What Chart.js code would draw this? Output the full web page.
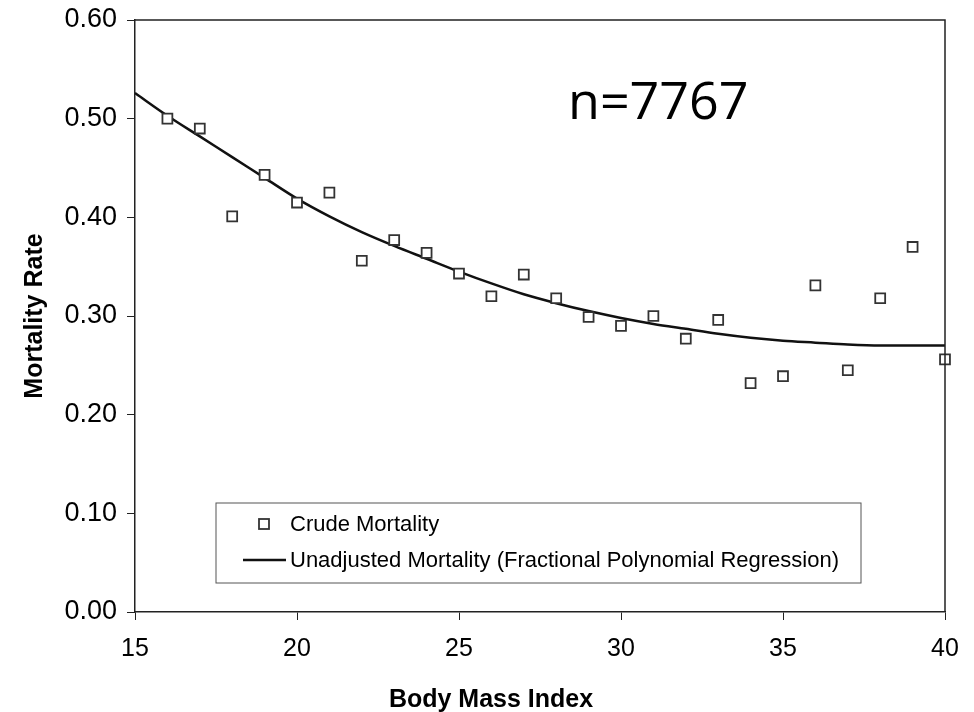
<!DOCTYPE html>
<html>
<head>
<meta charset="utf-8">
<script src="https://cdn.jsdelivr.net/npm/chart.js@4.4.1/dist/chart.umd.min.js"></script>
<style>
  html, body { margin: 0; padding: 0; background: #fff; }
  #wrap { width: 974px; height: 712px; }
</style>
</head>
<body>
<div id="wrap"><canvas id="chart" width="974" height="712"></canvas></div>
<script>
// crude mortality by BMI (points)
const bmiValues = [16, 17, 18, 19, 20, 21, 22, 23, 24, 25, 26, 27, 28, 29, 30, 31, 32, 33, 34, 35, 36, 37, 38, 39, 40];
const crudeMortality = [0.500, 0.490, 0.401, 0.443, 0.415, 0.425, 0.356, 0.377, 0.364, 0.343, 0.320, 0.342, 0.318, 0.299, 0.290, 0.300, 0.277, 0.296, 0.232, 0.239, 0.331, 0.245, 0.318, 0.370, 0.256];

// fitted curve (fractional polynomial)
const curveBmi = [15, 16, 17, 18, 19, 20, 21, 22, 23, 24, 25, 26, 27, 28, 29, 30, 31, 32, 33, 34, 35, 36, 37, 38, 39, 40];
const curveMortality = [0.526, 0.503, 0.482, 0.461, 0.440, 0.419, 0.401, 0.385, 0.371, 0.358, 0.345, 0.333, 0.322, 0.313, 0.305, 0.298, 0.292, 0.287, 0.282, 0.278, 0.275, 0.273, 0.271, 0.270, 0.270, 0.270];

const xTicks = [15, 20, 25, 30, 35, 40];
const yTicks = [0.0, 0.1, 0.2, 0.3, 0.4, 0.5, 0.6];

const seriesNames = ["Crude Mortality", "Unadjusted Mortality (Fractional Polynomial Regression)"];
const xTitle = "Body Mass Index";
const yTitle = "Mortality Rate";
const annotation = "n=7767";

const fontFamily = "'Liberation Sans', Arial, sans-serif";
const axisColor = "#222";

// frame, legend box, x title and n= label
const extrasPlugin = {
  id: "extras",
  afterDraw(chart) {
    const ctx = chart.ctx;
    const a = chart.chartArea;
    ctx.save();

    // top/right frame
    ctx.strokeStyle = axisColor;
    ctx.lineWidth = 1.5;
    ctx.beginPath();
    ctx.moveTo(a.left, a.top);
    ctx.lineTo(a.right, a.top);
    ctx.lineTo(a.right, a.bottom);
    ctx.stroke();

    // legend
    const bx = a.left + 81, by = a.bottom - 109, bw = 645, bh = 80;
    ctx.fillStyle = "#fff";
    ctx.fillRect(bx, by, bw, bh);
    ctx.strokeStyle = "#555";
    ctx.lineWidth = 1;
    ctx.strokeRect(bx, by, bw, bh);

    ctx.font = "22px " + fontFamily;
    ctx.textBaseline = "middle";
    ctx.textAlign = "left";

    const ds = chart.data.datasets;
    // marker item
    ctx.strokeStyle = ds[0].borderColor;
    ctx.lineWidth = 1.8;
    ctx.strokeRect(bx + 43, by + 16, 10, 10);
    ctx.fillStyle = "#000";
    ctx.fillText(ds[0].label, bx + 74, by + 22);
    // line item
    ctx.strokeStyle = ds[1].borderColor;
    ctx.lineWidth = 2.5;
    ctx.beginPath();
    ctx.moveTo(bx + 27, by + 57);
    ctx.lineTo(bx + 70, by + 57);
    ctx.stroke();
    ctx.fillText(ds[1].label, bx + 74, by + 58);

    // x axis title
    ctx.font = "bold 25px " + fontFamily;
    ctx.textAlign = "center";
    ctx.fillStyle = "#000";
    ctx.fillText(xTitle, a.left + 356, 700);

    // sample size
    ctx.font = "52px 'Open Sans', sans-serif";
    ctx.textAlign = "left";
    ctx.textBaseline = "alphabetic";
    ctx.fillText(annotation, a.left + 433, 119);

    ctx.restore();
  }
};

const ctx = document.getElementById("chart").getContext("2d");
new Chart(ctx, {
  type: "scatter",
  data: {
    datasets: [
      {
        label: seriesNames[0],
        data: bmiValues.map((x, i) => ({ x: x, y: crudeMortality[i] })),
        pointStyle: "rect",
        pointRadius: 7,
        pointBorderWidth: 1.8,
        borderColor: "#333",
        backgroundColor: "#fff",
        clip: false,
        order: 0
      },
      {
        type: "line",
        label: seriesNames[1],
        data: curveBmi.map((x, i) => ({ x: x, y: curveMortality[i] })),
        borderColor: "#111",
        borderWidth: 2.5,
        pointRadius: 0,
        fill: false,
        cubicInterpolationMode: "monotone",
        order: 1
      }
    ]
  },
  options: {
    responsive: false,
    animation: false,
    layout: { padding: { top: 20, right: 29, left: 0, bottom: 0 } },
    plugins: {
      legend: { display: false },
      tooltip: { enabled: false }
    },
    scales: {
      x: {
        type: "linear",
        min: 15,
        max: 40,
        afterBuildTicks: scale => { scale.ticks = xTicks.map(v => ({ value: v })); },
        ticks: { font: { family: fontFamily, size: 25 }, color: "#000", padding: 14, maxRotation: 0 },
        grid: { drawOnChartArea: false, drawTicks: true, tickLength: 8, color: axisColor },
        border: { display: true, color: axisColor, width: 1.5 },
        afterFit: scale => { scale.height = 100; }
      },
      y: {
        min: 0,
        max: 0.6,
        afterBuildTicks: scale => { scale.ticks = yTicks.map(v => ({ value: v })); },
        ticks: { font: { family: fontFamily, size: 27 }, color: "#000", padding: 10, callback: v => v.toFixed(2) },
        grid: { drawOnChartArea: false, drawTicks: true, tickLength: 8, color: axisColor },
        border: { display: true, color: axisColor, width: 1.5 },
        title: {
          display: true,
          text: yTitle,
          font: { family: fontFamily, size: 25, weight: "bold" },
          color: "#000",
          padding: { top: 20, bottom: 0 }
        },
        afterFit: scale => {
          scale.width = 135;
          scale.paddingTop = 0;
          scale.paddingBottom = 0;
        }
      }
    }
  },
  plugins: [extrasPlugin]
});
</script>
</body>
</html>
